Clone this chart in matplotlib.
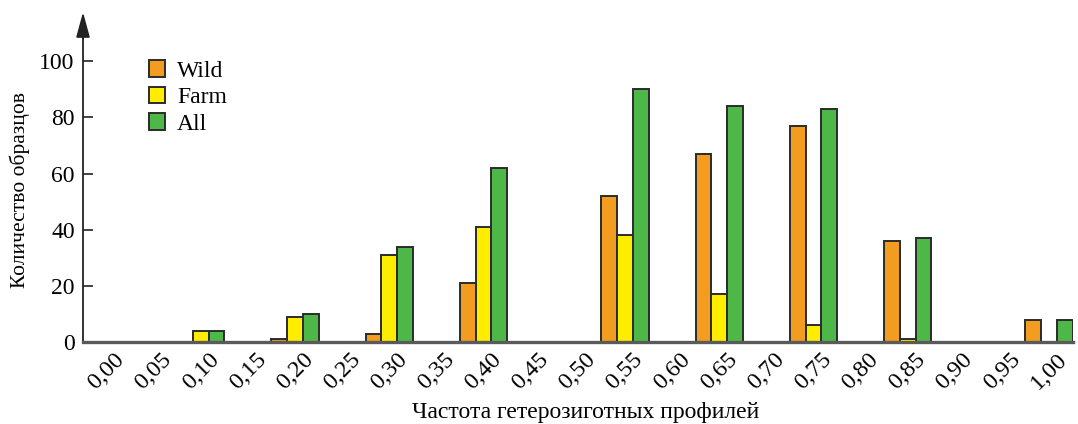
import matplotlib
matplotlib.use("Agg")
import matplotlib.pyplot as plt
import numpy as np
from matplotlib.patches import Patch

categories = ["0,00", "0,05", "0,10", "0,15", "0,20", "0,25", "0,30", "0,35", "0,40", "0,45",
              "0,50", "0,55", "0,60", "0,65", "0,70", "0,75", "0,80", "0,85", "0,90", "0,95", "1,00"]
wild = [0, 0, 0, 0, 1, 0, 3, 0, 21, 0, 0, 52, 0, 67, 0, 77, 0, 36, 0, 0, 8]
farm = [0, 0, 4, 0, 9, 0, 31, 0, 41, 0, 0, 38, 0, 17, 0, 6, 0, 1, 0, 0, 0]
all_ = [0, 0, 4, 0, 10, 0, 34, 0, 62, 0, 0, 90, 0, 84, 0, 83, 0, 37, 0, 0, 8]
series_names = ["Wild", "Farm", "All"]
colors = ["#F29C20", "#FFED00", "#4DB848"]
yticks = [0, 20, 40, 60, 80, 100]

plt.rcParams['font.family'] = ['Liberation Serif', 'DejaVu Serif']

fig = plt.figure(figsize=(10.78, 4.24), dpi=100)
ax = fig.add_axes([0.077, 0.1934, 0.918, 0.778])

x = np.arange(len(categories))
w = 0.335
edge = "#2b2b2b"
for i, (vals, c) in enumerate(zip([wild, farm, all_], colors)):
    xs = x + (i - 1) * w
    mask = np.array(vals) > 0
    ax.bar(xs[mask], np.array(vals)[mask], width=w, color=c, edgecolor=edge, linewidth=1.4, zorder=3)

ax.set_xlim(-0.5, 20.5)
ax.set_ylim(0, 117.5)
ax.set_xticks(x)
ax.set_xticklabels(categories, rotation=45, ha='center', fontsize=17.5)
ax.set_yticks(yticks)
ax.set_yticklabels([str(v) for v in yticks], fontsize=17)
ax.tick_params(axis='x', length=0, pad=5)
ax.tick_params(axis='y', direction='in', length=7, width=1.2, color='#222222', pad=6)

for s in ['top', 'right']:
    ax.spines[s].set_visible(False)
ax.spines['left'].set_color('#222222')
ax.spines['left'].set_linewidth(1.3)
ax.spines['left'].set_bounds(0, 112)
ax.spines['bottom'].set_color('#5a5a5a')
ax.spines['bottom'].set_linewidth(2.4)
ax.spines['bottom'].set_zorder(4)

# arrow on y axis
ax.annotate('', xy=(0, 1.0), xycoords='axes fraction', xytext=(0, 0.92), textcoords='axes fraction',
            arrowprops=dict(arrowstyle='-|>,head_length=1.1,head_width=0.3', color='#222222',
                            lw=1.3, mutation_scale=14, shrinkA=0, shrinkB=0), annotation_clip=False)

ax.set_ylabel("Количество образцов", fontsize=15.5)
ax.yaxis.set_label_coords(-0.0535, 0.46)
ax.set_xlabel("Частота гетерозиготных профилей", fontsize=17)
ax.xaxis.set_label_coords(0.508, -0.183)

handles = [Patch(facecolor=c, edgecolor=edge, linewidth=1.4) for c in colors]
ax.legend(handles, series_names, loc='upper left', bbox_to_anchor=(0.057, 0.882), frameon=False,
          fontsize=17, handlelength=0.7, handleheight=0.7, handletextpad=0.5, labelspacing=0.2,
          borderaxespad=0)

fig.savefig("out.png", dpi=100)
